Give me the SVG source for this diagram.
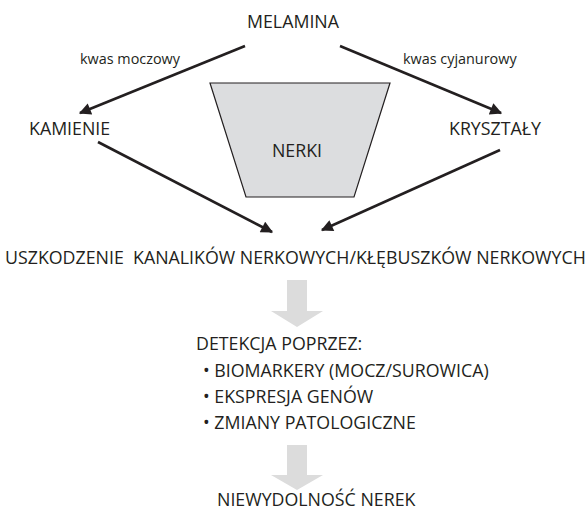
<svg xmlns="http://www.w3.org/2000/svg" width="587" height="512" viewBox="0 0 587 512">
<style>
text{font-family:"Open Sans","Noto Sans","Liberation Sans",sans-serif;fill:#231f20;font-size:17.8px}
.s{font-size:14.4px}
.c{text-anchor:middle}
.ln{stroke:#231f20;stroke-width:2.6;fill:none}
.big{fill:#dcdcdc}
</style>
<defs>
<marker id="ah" viewBox="0 0 10 10" refX="9" refY="5" markerWidth="5.5" markerHeight="4.6" markerUnits="strokeWidth" orient="auto">
<path d="M0,0 L10,5 L0,10 z" fill="#231f20"/>
</marker>
</defs>
<rect width="587" height="512" fill="#ffffff"/>
<g id="nerki">
<path d="M210,83 L390,83 L354,197 L246,197 Z" fill="#dcdddf" stroke="#231f20" stroke-width="1.2"/>
<text class="c" x="297" y="157">NERKI</text>
</g>
<g id="melamina"><text class="c" x="293" y="28">MELAMINA</text></g>
<g id="kamienie"><text x="29" y="135">KAMIENIE</text></g>
<g id="krysztaly"><text x="449" y="135">KRYSZTAŁY</text></g>
<g id="uszkodzenie"><text x="5" y="264" xml:space="preserve">USZKODZENIE  KANALIKÓW NERKOWYCH/KŁĘBUSZKÓW NERKOWYCH</text></g>
<g id="detekcja">
<text x="196" y="350">DETEKCJA POPRZEZ:</text>
<text x="203" y="377">• BIOMARKERY (MOCZ/SUROWICA)</text>
<text x="203" y="403">• EKSPRESJA GENÓW</text>
<text x="203" y="429">• ZMIANY PATOLOGICZNE</text>
</g>
<g id="niewydolnosc"><text x="217" y="506">NIEWYDOLNOŚĆ NEREK</text></g>
<g id="connectors">
<line class="ln" x1="245" y1="46" x2="80" y2="113" marker-end="url(#ah)"/>
<text class="s" x="80" y="64">kwas moczowy</text>
<line class="ln" x1="340" y1="46" x2="501" y2="113" marker-end="url(#ah)"/>
<text class="s" x="403" y="64">kwas cyjanurowy</text>
<line class="ln" x1="98" y1="142" x2="272" y2="232" marker-end="url(#ah)"/>
<line class="ln" x1="500" y1="150" x2="322" y2="230" marker-end="url(#ah)"/>
<path class="big" d="M287,280 L307,280 L307,311 L323,311 L297,327 L271,311 L287,311 Z"/>
<path class="big" d="M287,445 L307,445 L307,475 L323,475 L297,490 L271,475 L287,475 Z"/>
</g>
</svg>
